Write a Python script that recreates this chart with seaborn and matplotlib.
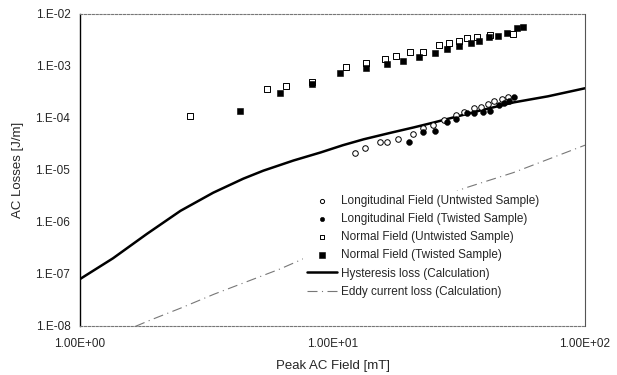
import numpy as np
import pandas as pd
import seaborn as sns
import matplotlib.pyplot as plt
from matplotlib.ticker import FixedLocator, FixedFormatter, LogLocator, NullFormatter

# datos
long_unt_x = [12.3, 13.4, 15.4, 16.4, 18.1, 20.8, 22.8, 24.9, 27.6, 30.8, 33.1, 36.3, 38.6, 41.2, 43.5, 46.9, 49.5]
long_unt_y = [2.1e-5, 2.6e-5, 3.4e-5, 3.4e-5, 4.0e-5, 5.0e-5, 6.3e-5, 7.2e-5, 9.0e-5, 1.12e-4, 1.28e-4,
              1.53e-4, 1.6e-4, 1.83e-4, 2.09e-4, 2.29e-4, 2.5e-4]

long_tw_x = [20.0, 22.8, 25.4, 28.3, 30.8, 34.0, 36.3, 39.4, 42.0, 45.6, 47.7, 49.9, 52.3]
long_tw_y = [3.5e-5, 5.3e-5, 5.5e-5, 8.2e-5, 9.4e-5, 1.23e-4, 1.23e-4, 1.28e-4, 1.34e-4, 1.75e-4,
             1.91e-4, 2.09e-4, 2.5e-4]

norm_unt_x = [2.73, 5.5, 6.57, 8.26, 11.3, 13.6, 16.1, 17.9, 20.2, 22.8, 26.3, 28.9, 31.6, 34.0, 37.3, 42.0, 51.8]
norm_unt_y = [1.07e-4, 3.6e-4, 4.07e-4, 4.86e-4, 9.5e-4, 1.13e-3, 1.35e-3, 1.54e-3, 1.85e-3, 1.85e-3,
              2.52e-3, 2.75e-3, 3.0e-3, 3.44e-3, 3.6e-3, 3.93e-3, 4.1e-3]

norm_tw_x = [4.3, 6.2, 8.3, 10.7, 13.6, 16.4, 19.1, 22.1, 25.4, 28.3, 31.6, 35.3, 37.9, 41.6, 45.1, 49.0, 53.7, 56.8]
norm_tw_y = [1.35e-4, 3.0e-4, 4.5e-4, 7.3e-4, 9.1e-4, 1.08e-3, 1.24e-3, 1.48e-3, 1.77e-3, 2.1e-3, 2.4e-3,
             2.75e-3, 3.0e-3, 3.6e-3, 3.75e-3, 4.3e-3, 5.4e-3, 5.6e-3]

hyst_x = [1, 1.35, 1.84, 2.5, 3.37, 4.43, 5.32, 7.0, 8.96, 11.0, 13.3, 17.0, 21.0, 25.2, 38.6, 52.3, 71.3, 100]
hyst_y = [8e-8, 2.0e-7, 5.9e-7, 1.64e-6, 3.66e-6, 6.8e-6, 9.7e-6, 1.52e-5, 2.17e-5, 3.0e-5, 3.9e-5,
          5.2e-5, 6.6e-5, 8.2e-5, 1.4e-4, 2.0e-4, 2.61e-4, 3.73e-4]

eddy_x = [1.0, 1.9, 2.5, 3.4, 6.2, 33.0, 52.0, 100]
eddy_y = [3.5e-9, 1.3e-8, 2.2e-8, 4.1e-8, 1.25e-7, 4.4e-6, 8.9e-6, 3.0e-5]

x_ticks = [1, 10, 100]
x_tick_labels = ["1.00E+00", "1.00E+01", "1.00E+02"]
y_ticks = [1e-8, 1e-7, 1e-6, 1e-5, 1e-4, 1e-3, 1e-2]
y_tick_labels = ["1.E-08", "1.E-07", "1.E-06", "1.E-05", "1.E-04", "1.E-03", "1.E-02"]

sns.set_style("white")
plt.rcParams['font.family'] = ['Liberation Sans', 'DejaVu Sans']

fig = plt.figure(figsize=(6.17, 3.75), dpi=100)
ax = fig.add_axes([0.1297, 0.1307, 0.8185, 0.832])
ax.set_xscale("log")
ax.set_yscale("log")

# curvas de calculo
sns.lineplot(x=hyst_x, y=hyst_y, ax=ax, color="black", linewidth=1.8,
             label="Hysteresis loss (Calculation)")
sns.lineplot(x=eddy_x, y=eddy_y, ax=ax, color="#777777", linewidth=0.8,
             linestyle=(0, (9, 4, 1, 4)), label="Eddy current loss (Calculation)")

# medidas
sns.scatterplot(x=long_unt_x, y=long_unt_y, ax=ax, marker="o", s=16, facecolor="white",
                edgecolor="black", linewidth=0.7, label="Longitudinal Field (Untwisted Sample)", zorder=3)
sns.scatterplot(x=long_tw_x, y=long_tw_y, ax=ax, marker="o", s=18, color="black",
                edgecolor="black", label="Longitudinal Field (Twisted Sample)", zorder=3)
sns.scatterplot(x=norm_unt_x, y=norm_unt_y, ax=ax, marker="s", s=18, facecolor="white",
                edgecolor="black", linewidth=0.7, label="Normal Field (Untwisted Sample)", zorder=3)
sns.scatterplot(x=norm_tw_x, y=norm_tw_y, ax=ax, marker="s", s=24, color="black",
                edgecolor="black", label="Normal Field (Twisted Sample)", zorder=3)

ax.set_xlim(1, 100)
ax.set_ylim(1e-8, 1e-2)

ax.xaxis.set_major_locator(FixedLocator(x_ticks))
ax.xaxis.set_major_formatter(FixedFormatter(x_tick_labels))
ax.yaxis.set_major_locator(FixedLocator(y_ticks))
ax.yaxis.set_major_formatter(FixedFormatter(y_tick_labels))
ax.xaxis.set_minor_locator(LogLocator(base=10, subs=np.arange(2, 10)))
ax.yaxis.set_minor_locator(LogLocator(base=10, subs=np.arange(2, 10)))
ax.xaxis.set_minor_formatter(NullFormatter())
ax.yaxis.set_minor_formatter(NullFormatter())
ax.tick_params(axis="both", which="major", direction="in", length=3, labelsize=8.5, color="#555555")
ax.tick_params(axis="x", which="major", pad=9)
ax.tick_params(axis="y", which="major", pad=7)
ax.tick_params(axis="both", which="minor", direction="in", length=2, color="#777777")

ax.set_xlabel("Peak AC Field [mT]", fontsize=9.5, labelpad=7)
ax.set_ylabel("AC Losses [J/m]", fontsize=9.5, labelpad=8)

for side in ["top", "bottom"]:
    ax.spines[side].set_color("#777777")
    ax.spines[side].set_linestyle((0, (2, 1.5)))
    ax.spines[side].set_linewidth(0.8)
ax.spines["left"].set_color("black")
ax.spines["left"].set_linewidth(1.0)
ax.spines["right"].set_color("#555555")
ax.spines["right"].set_linewidth(0.8)

# orden de la leyenda
handles, labels = ax.get_legend_handles_labels()
order = [2, 3, 4, 5, 0, 1]
ax.legend([handles[i] for i in order], [labels[i] for i in order],
          loc="upper left", bbox_to_anchor=(0.43, 0.45), fontsize=8.5, frameon=True,
          facecolor="white", edgecolor="none", framealpha=1, fancybox=False, markerscale=0.75,
          handlelength=2.6, handletextpad=0.3, labelspacing=0.52, borderpad=0.3)

fig.savefig("out.png", dpi=100)
